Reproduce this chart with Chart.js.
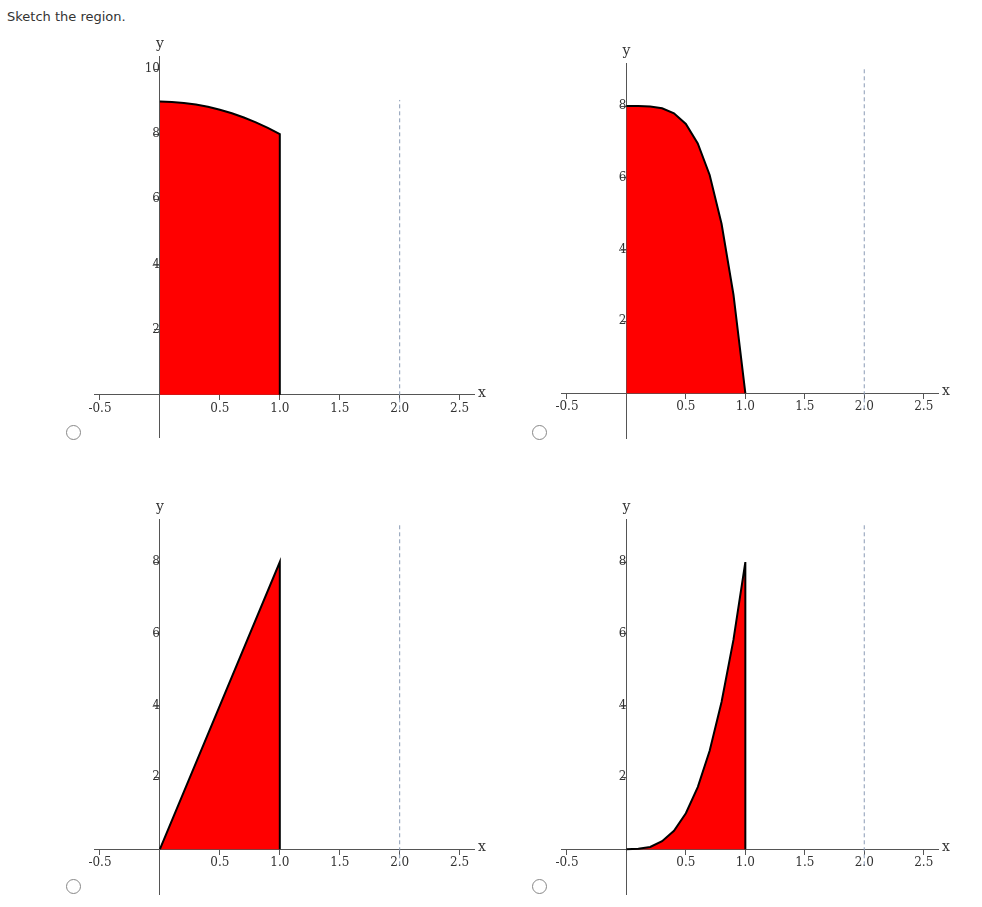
<!DOCTYPE html>
<html>
<head>
<meta charset="utf-8">
<script src="https://cdn.jsdelivr.net/npm/chart.js@4"></script>
<style>
  body { margin: 0; background: #fff; width: 982px; height: 907px; position: relative; overflow: hidden; }
  .title { position: absolute; left: 7px; top: 9px; font: 13px "DejaVu Sans", Verdana, sans-serif; color: #333; }
  .radio { position: absolute; width: 13px; height: 13px; border: 1px solid #888; border-radius: 50%; background: #fff; }
  canvas { position: absolute; }
</style>
</head>
<body>
<div class="title">Sketch the region.</div>
<div class="radio" style="left:66px;top:425px"></div>
<div class="radio" style="left:532px;top:425px"></div>
<div class="radio" style="left:66px;top:879px"></div>
<div class="radio" style="left:532px;top:879px"></div>
<canvas id="p1"></canvas>
<canvas id="p2"></canvas>
<canvas id="p3"></canvas>
<canvas id="p4"></canvas>
<script>
const xTicks = [-0.5, 0.5, 1.0, 1.5, 2.0, 2.5];
const xCurve = [0, 0.1, 0.2, 0.3, 0.4, 0.5, 0.6, 0.7, 0.8, 0.9, 1.0, 1.0];
const yPanel1 = [9, 8.99, 8.96, 8.91, 8.84, 8.75, 8.64, 8.51, 8.36, 8.19, 8, 0];
const yPanel2 = [8, 8.0, 7.99, 7.94, 7.8, 7.5, 6.96, 6.08, 4.72, 2.75, 0, 0];
const xPanel3 = [0, 1, 1];
const yPanel3 = [0, 8, 0];
const yPanel4 = [0, 0.01, 0.06, 0.22, 0.51, 1, 1.73, 2.74, 4.1, 5.83, 8, 0];
const yTicks1 = [2, 4, 6, 8, 10];
const yTicks2 = [2, 4, 6, 8];

const PAD = 25;
const X_MIN = -0.55, X_MAX = 2.62;

const axisLabels = {
  id: 'axisLabels',
  afterDraw(chart) {
    const ctx = chart.ctx;
    const a = chart.chartArea;
    const x0 = chart.scales.x.getPixelForValue(0);
    const y0 = chart.scales.y.getPixelForValue(0);
    ctx.save();
    ctx.fillStyle = '#333';
    ctx.font = '14px "DejaVu Serif", serif';
    ctx.textAlign = 'center';
    ctx.fillText('x', a.right + 8, y0 + 2);
    ctx.fillText('y', x0, a.top - 8);
    ctx.restore();
  }
};

function makePanel(id, ox, oy, xpx, ypx, yMin, yMax, xs, ys, yTicks, dashTop) {
  const w = (X_MAX - X_MIN) * xpx + 2 * PAD;
  const h = (yMax - yMin) * ypx + 2 * PAD;
  const canvas = document.getElementById(id);
  canvas.style.left = (ox - (0 - X_MIN) * xpx - PAD) + 'px';
  canvas.style.top = (oy - yMax * ypx - PAD) + 'px';
  canvas.style.width = w + 'px';
  canvas.style.height = h + 'px';
  const pts = xs.map((x, i) => ({ x: x, y: ys[i] }));
  const tickFont = { family: '"DejaVu Serif", serif', size: 12 };
  new Chart(canvas, {
    type: 'scatter',
    data: {
      datasets: [
        {
          data: [{ x: 2, y: -0.45 }, { x: 2, y: dashTop }],
          showLine: true, borderColor: '#8a9bb5', borderWidth: 1,
          borderDash: [4, 3], pointRadius: 0, fill: false
        },
        {
          data: pts, showLine: true, borderColor: '#000', borderWidth: 2,
          backgroundColor: '#ff0000', fill: 'origin', pointRadius: 0, tension: 0
        }
      ]
    },
    options: {
      responsive: false,
      animation: false,
      layout: { padding: PAD },
      plugins: { legend: { display: false }, tooltip: { enabled: false } },
      scales: {
        x: {
          type: 'linear', min: X_MIN, max: X_MAX, position: { y: 0 },
          afterBuildTicks: (s) => { s.ticks = xTicks.map(v => ({ value: v })); },
          ticks: { font: tickFont, color: '#333', callback: v => v.toFixed(1), padding: 2 },
          grid: { drawOnChartArea: false, tickLength: 5, color: '#555' },
          border: { color: '#555' }
        },
        y: {
          type: 'linear', min: yMin, max: yMax, position: { x: 0 },
          afterBuildTicks: (s) => { s.ticks = yTicks.map(v => ({ value: v })); },
          ticks: { font: tickFont, color: '#333', padding: 2 },
          grid: { drawOnChartArea: false, tickLength: 5, color: '#555' },
          border: { color: '#555' }
        }
      }
    },
    plugins: [axisLabels]
  });
}

makePanel('p1', 160, 395, 120, 32.6, -1.3, 10.4, xCurve, yPanel1, yTicks1, 9.05);
makePanel('p2', 626, 393, 119, 35.9, -1.25, 9.2, xCurve, yPanel2, yTicks2, 9.05);
makePanel('p3', 160, 849, 120, 35.9, -1.25, 9.2, xPanel3, yPanel3, yTicks2, 9.05);
makePanel('p4', 626, 849, 119, 35.9, -1.25, 9.2, xCurve, yPanel4, yTicks2, 9.05);
</script>
</body>
</html>
